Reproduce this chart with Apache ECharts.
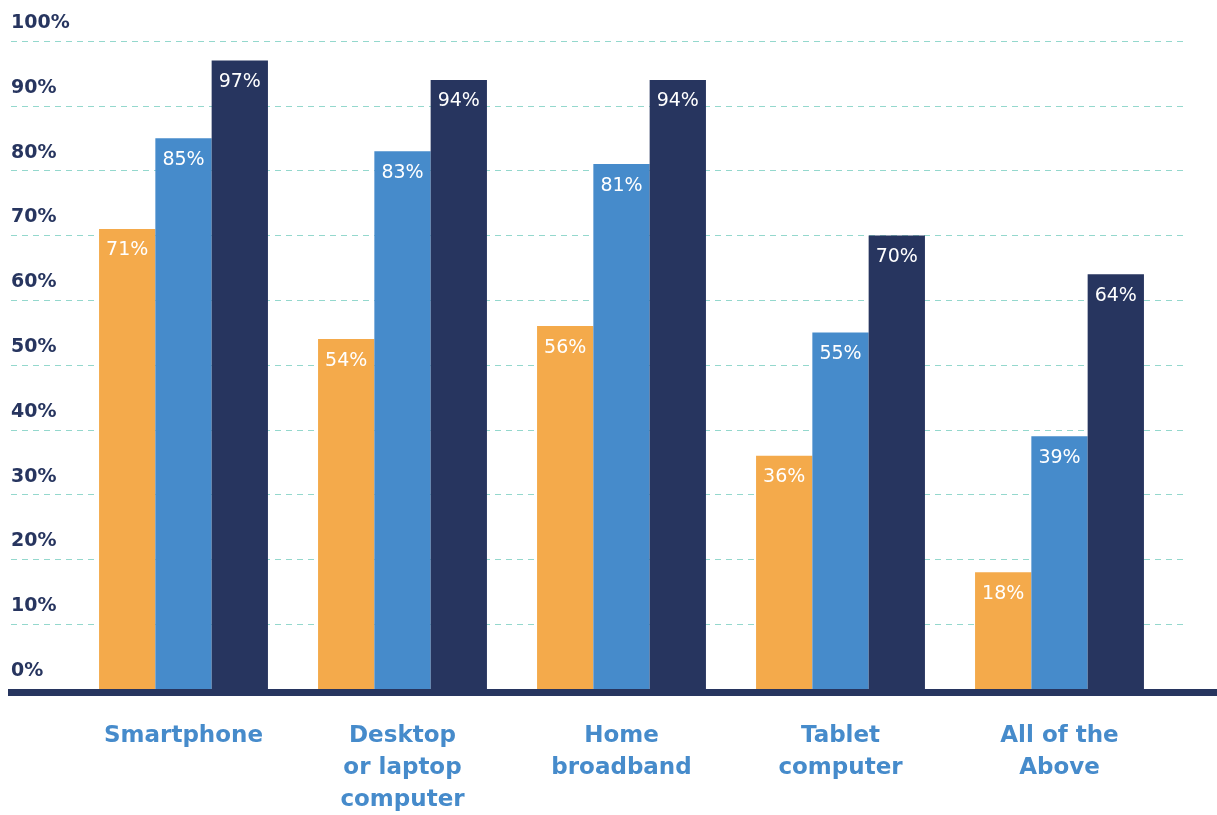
<!DOCTYPE html>
<html><head><meta charset="utf-8">
<script src="https://cdn.jsdelivr.net/npm/echarts@6/dist/echarts.min.js"></script>
<style>html,body{margin:0;padding:0;background:#fff}#c{width:1217px;height:815px}</style>
</head><body><div id="c"></div>
<script>
var categories = ['Smartphone', 'Desktop\nor laptop\ncomputer', 'Home\nbroadband', 'Tablet\ncomputer', 'All of the\nAbove'];
var seriesA = [71, 54, 56, 36, 18];
var seriesB = [85, 83, 81, 55, 39];
var seriesC = [97, 94, 94, 70, 64];
var yTicks = [0, 10, 20, 30, 40, 50, 60, 70, 80, 90, 100];

var colors = ['#f4aa4b', '#468bcb', '#27355f'];
var FONT = 'DejaVu Sans';
var gridTop = 41, gridBottom = 815 - 689;

function barSeries(data, color) {
  return {
    type: 'bar', xAxisIndex: 0, yAxisIndex: 0, data: data, barWidth: 56.3, barGap: '0%',
    itemStyle: { color: color },
    label: { show: true, position: 'insideTop', distance: 12, color: '#ffffff', fontFamily: FONT, fontSize: 19, formatter: '{c}%' }
  };
}

var chart = echarts.init(document.getElementById('c'), null, { renderer: 'canvas' });
chart.setOption({
  animation: false,
  grid: [
    { left: 74, right: 48, top: gridTop, bottom: gridBottom, containLabel: false, outerBoundsMode: 'none' },
    { left: 11, right: 33, top: gridTop, bottom: gridBottom, containLabel: false, outerBoundsMode: 'none' },
    { left: 8, right: 0, top: gridTop, bottom: gridBottom - 3, containLabel: false, outerBoundsMode: 'none' }
  ],
  xAxis: [
    { type: 'category', gridIndex: 0, data: categories, axisLine: { show: false }, axisTick: { show: false },
      axisLabel: { margin: 31, color: '#468bcb', fontFamily: FONT, fontWeight: 'bold', fontSize: 23, lineHeight: 32, interval: 0 } },
    { type: 'value', gridIndex: 1, show: false },
    { type: 'value', gridIndex: 2, min: 0, max: 1, axisLabel: { show: false }, axisTick: { show: false }, splitLine: { show: false },
      axisLine: { show: true, lineStyle: { color: '#27355f', width: 7, cap: 'butt' } } }
  ],
  yAxis: [
    { type: 'value', gridIndex: 0, min: 0, max: 100, interval: 10, show: false },
    { type: 'value', gridIndex: 1, min: 0, max: 100, interval: 10,
      axisLine: { show: false }, axisTick: { show: false },
      axisLabel: { inside: true, margin: 0, align: 'left', verticalAlign: 'bottom', padding: [0, 0, 8, 0], lineHeight: 20,
        color: '#27355f', fontFamily: FONT, fontWeight: 'bold', fontSize: 19,
        formatter: function (v) { return yTicks.indexOf(v) >= 0 ? v + '%' : ''; } },
      splitLine: { show: true, lineStyle: { color: '#94d8cd', width: 1.2, type: [6, 5] } } },
    { type: 'value', gridIndex: 2, show: false }
  ],
  series: [
    barSeries(seriesA, colors[0]),
    barSeries(seriesB, colors[1]),
    barSeries(seriesC, colors[2])
  ]
});
</script></body></html>
